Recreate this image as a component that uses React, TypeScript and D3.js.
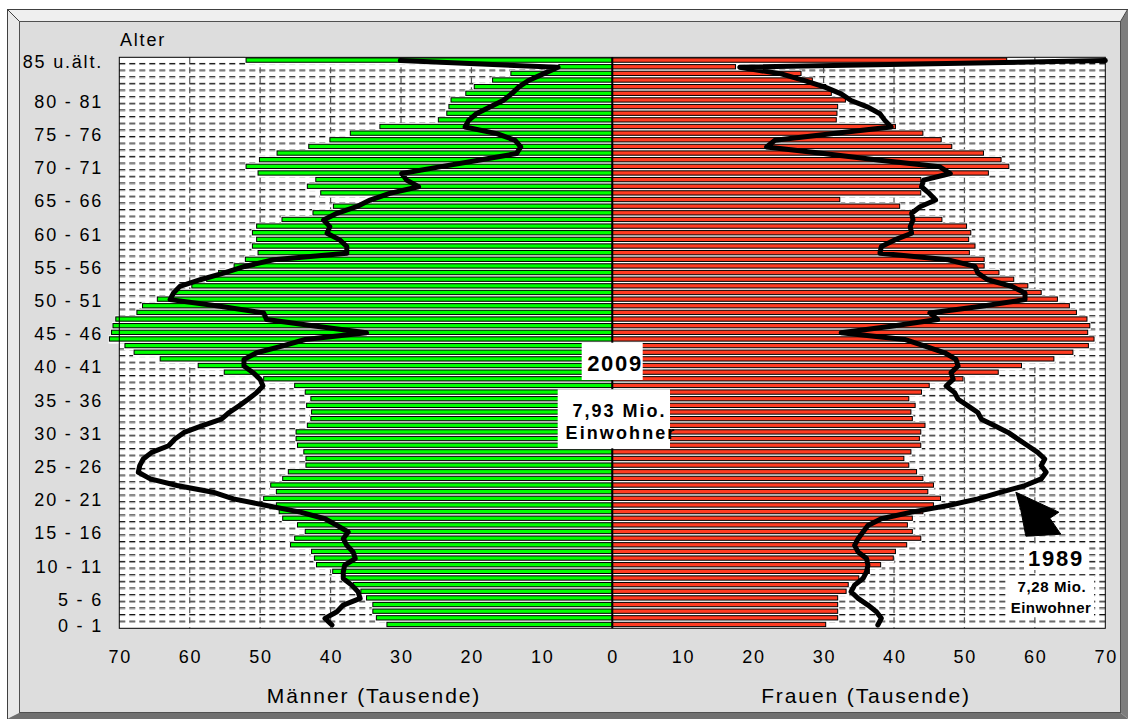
import React from 'react';
import * as d3 from 'd3';

// Age rows 0 .. 85 (85 = "85 u.ält.")
const ages: number[] = d3.range(0, 86);

// 2009 population, thousands
const men2009: number[] = [
  32.0, 33.5, 34.0, 34.0, 34.9, 35.7, 36.8, 38.2, 39.7, 42.0,
  42.3, 42.7, 45.7, 45.1, 43.6, 44.7, 46.8, 47.3, 47.7, 49.5,
  47.7, 48.5, 46.8, 46.0, 43.5, 43.5, 43.8, 44.7, 44.9, 44.9,
  43.3, 42.8, 42.7, 43.4, 42.8, 43.6, 45.1, 49.5, 55.1, 58.8,
  64.2, 67.9, 69.2, 71.4, 71.1, 70.9, 70.5, 67.5, 66.7, 64.6,
  62.3, 59.7, 57.6, 55.9, 53.7, 52.1, 50.3, 51.1, 50.5, 51.1,
  50.5, 46.9, 42.5, 39.6, 34.0, 41.4, 43.3, 42.1, 50.3, 52.0,
  50.1, 47.6, 43.1, 40.1, 37.2, 33.0, 24.7, 23.5, 23.2, 22.9,
  20.8, 19.6, 17.0, 14.4, 7.6, 52.0,
];
const women2009: number[] = [
  30.3, 32.0, 32.0, 32.0, 32.0, 33.2, 33.5, 35.0, 36.5, 38.1,
  39.9, 40.2, 41.8, 43.8, 42.6, 41.9, 42.6, 44.1, 45.6, 46.6,
  44.8, 45.6, 44.1, 43.2, 42.1, 41.4, 42.4, 43.8, 43.6, 43.8,
  44.4, 42.6, 42.4, 43.0, 42.1, 43.9, 45.0, 49.8, 54.8, 58.1,
  62.7, 65.4, 67.6, 68.4, 67.5, 67.8, 67.4, 65.9, 64.9, 63.2,
  60.9, 59.0, 57.0, 54.9, 52.8, 52.8, 50.7, 51.5, 50.6, 50.9,
  50.3, 46.8, 42.4, 40.8, 32.3, 43.8, 43.8, 43.8, 53.4, 56.3,
  55.2, 52.7, 48.2, 46.7, 44.1, 40.2, 31.8, 31.9, 32.0, 33.1,
  31.1, 30.3, 28.4, 26.8, 17.5, 56.0,
];

// 1989 population, thousands (black lines)
const men1989: number[] = [
  39.8, 40.8, 39.1, 38.2, 35.8, 36.1, 37.0, 38.2, 38.2, 38.0,
  36.5, 36.8, 37.7, 38.2, 37.5, 39.1, 40.8, 44.3, 49.1, 53.8,
  56.7, 61.8, 65.6, 67.3, 67.1, 66.6, 65.4, 63.0, 62.1, 60.8,
  58.3, 55.5, 54.4, 53.0, 51.7, 50.5, 49.6, 50.0, 51.0, 52.3,
  52.3, 50.5, 46.9, 43.6, 34.9, 42.0, 49.1, 49.5, 55.7, 62.8,
  62.3, 61.4, 58.5, 55.2, 52.2, 48.1, 37.7, 37.7, 38.7, 40.5,
  40.1, 41.0, 39.1, 36.3, 34.4, 31.6, 27.5, 29.2, 29.9, 24.5,
  19.0, 13.6, 13.0, 13.8, 16.4, 20.9, 20.4, 19.3, 17.4, 15.5,
  14.3, 13.3, 11.9, 9.8, 7.7, 30.1,
];
const women1989: number[] = [
  37.7, 38.2, 37.5, 36.3, 34.9, 33.9, 34.4, 35.6, 36.1, 36.3,
  36.1, 34.9, 34.4, 34.9, 35.6, 36.3, 38.2, 42.5, 47.7, 51.9,
  55.2, 58.6, 60.9, 61.6, 60.9, 61.4, 60.4, 59.0, 57.6, 56.2,
  54.3, 52.4, 51.9, 50.5, 49.1, 48.6, 47.4, 48.4, 48.1, 49.1,
  48.8, 47.2, 44.4, 41.5, 32.5, 39.6, 46.2, 45.1, 52.4, 58.6,
  58.6, 56.7, 53.3, 51.9, 51.5, 47.7, 38.0, 38.2, 40.1, 42.5,
  42.3, 42.7, 42.5, 43.7, 45.9, 45.0, 43.9, 44.2, 48.0, 46.5,
  38.0, 30.0, 21.9, 23.1, 31.1, 39.6, 38.7, 38.0, 36.3, 33.9,
  32.5, 30.2, 27.3, 24.0, 18.1, 70.0,
];

// Category labels (row index where the label is drawn) and x ticks
const ageTickRows: number[] = [0, 4, 9, 14, 19, 24, 29, 34, 39, 44, 49, 54, 59, 64, 69, 74, 79, 85];
const ageTickLabels: string[] = [
  '0 - 1', '5 - 6', '10 - 11', '15 - 16', '20 - 21', '25 - 26', '30 - 31', '35 - 36', '40 - 41',
  '45 - 46', '50 - 51', '55 - 56', '60 - 61', '65 - 66', '70 - 71', '75 - 76', '80 - 81', '85 u.ält.',
];
const xTicks: number[] = [0, 10, 20, 30, 40, 50, 60, 70];
const gridValues: number[] = [10, 20, 30, 40, 50, 60];

const FONT = "'Liberation Sans', Arial, Helvetica, sans-serif";

export default function App() {
  const W = 1128;
  const H = 719;
  const plot = { left: 119.3, right: 1105.3, top: 57.3, bottom: 628.3 };
  const cx = 612.3;

  const xL = d3.scaleLinear().domain([0, 70]).range([cx, plot.left]);
  const xR = d3.scaleLinear().domain([0, 70]).range([cx, plot.right]);
  const yB = d3
    .scaleBand<number>()
    .domain(ages.slice().reverse())
    .range([plot.top, plot.bottom])
    .paddingInner(0)
    .paddingOuter(0);
  const rowH = yB.bandwidth();
  const yC = (a: number) => (yB(a) as number) + rowH / 2;

  const lineMen = d3
    .line<number>()
    .x((v) => xL(v))
    .y((_, i) => yC(ages[i]));
  const lineWomen = d3
    .line<number>()
    .x((v) => xR(v))
    .y((_, i) => yC(ages[i]));

  const barTop = 0.65;
  const barH = 4.3;

  const green = '#00ff00';
  const red = '#ff3c22';

  // arrow anchored in data space (tip on the women's 1989 line)
  const tipX = xR(57.3);
  const tipY = yC(20);
  const arrow: [number, number][] = [
    [tipX, tipY],
    [tipX + 43, tipY + 20],
    [tipX + 34, tipY + 26],
    [tipX + 45, tipY + 42],
    [tipX + 10, tipY + 44],
    [tipX + 5, tipY + 18],
  ];

  return (
    <svg
      width={W}
      height={H}
      viewBox={`0 0 ${W} ${H}`}
      style={{ position: 'absolute', left: 0, top: 0, background: '#ffffff' }}
      fontFamily={FONT}
    >
      {/* 3D frame */}
      <polygon points="7,9 1128,9 1121,21 19,21" fill="#efefef" />
      <polygon points="7,9 19,21 19,713 7,719" fill="#e9e9e9" />
      <polygon points="7,719 19,713 1121,713 1128,719" fill="#6f6f6f" />
      <polygon points="1128,9 1128,719 1121,713 1121,21" fill="#7d7d7d" />
      <rect x={7.5} y={9.5} width={1125} height={712} fill="none" stroke="#404040" strokeWidth={1} />
      <line x1={7.5} y1={9.5} x2={19.5} y2={21.5} stroke="#404040" strokeWidth={1} />
      <line x1={1127.5} y1={9.5} x2={1120.5} y2={21.5} stroke="#404040" strokeWidth={1} />
      <rect x={19.5} y={21.5} width={1101} height={691} fill="#dddddd" stroke="#505050" strokeWidth={1} />

      {/* plot area */}
      <rect x={plot.left} y={plot.top} width={plot.right - plot.left} height={plot.bottom - plot.top} fill="#ffffff" />

      {/* horizontal dashed gridlines at category boundaries */}
      {d3.range(1, ages.length).map((k) => {
        const y = plot.top + k * rowH;
        return (
          <g key={`hg${k}`}>
            <line x1={plot.left} x2={plot.right} y1={y - 0.5} y2={y - 0.5} stroke="#111" strokeWidth={1} strokeDasharray="6,4" />
            <line x1={plot.left} x2={plot.right} y1={y + 0.6} y2={y + 0.6} stroke="#9a9a9a" strokeWidth={1} strokeDasharray="6,4" />
          </g>
        );
      })}
      {/* vertical dashed gridlines */}
      {gridValues.map((v) => (
        <g key={`vg${v}`}>
          <line x1={xL(v)} x2={xL(v)} y1={plot.top} y2={plot.bottom} stroke="#555" strokeWidth={1.2} strokeDasharray="6,4" />
          <line x1={xR(v)} x2={xR(v)} y1={plot.top} y2={plot.bottom} stroke="#555" strokeWidth={1.2} strokeDasharray="6,4" />
        </g>
      ))}

      {/* white backing behind bars */}
      {ages.map((a, i) => (
        <rect key={`wm${a}`} x={xL(men2009[i]) - 1} y={(yB(a) as number) - 0.8} width={cx - xL(men2009[i]) + 1} height={rowH + 1.6} fill="#fff" />
      ))}
      {ages.map((a, i) => (
        <rect key={`ww${a}`} x={cx} y={(yB(a) as number) - 0.8} width={xR(women2009[i]) - cx + 1} height={rowH + 1.6} fill="#fff" />
      ))}

      {/* bars 2009 */}
      {ages.map((a, i) => (
        <rect
          key={`bm${a}`}
          x={xL(men2009[i])}
          y={(yB(a) as number) + barTop}
          width={cx - xL(men2009[i])}
          height={barH}
          fill={green}
          stroke="#000"
          strokeWidth={1}
        />
      ))}
      {ages.map((a, i) => (
        <rect
          key={`bw${a}`}
          x={cx}
          y={(yB(a) as number) + barTop}
          width={xR(women2009[i]) - cx}
          height={barH}
          fill={red}
          stroke="#000"
          strokeWidth={1}
        />
      ))}

      {/* plot border and center axis */}
      <rect x={plot.left} y={plot.top} width={plot.right - plot.left} height={plot.bottom - plot.top} fill="none" stroke="#000" strokeWidth={1} />
      <line x1={cx} x2={cx} y1={plot.top} y2={plot.bottom} stroke="#000" strokeWidth={2} />

      {/* 1989 lines */}
      <path d={lineMen(men1989) || ''} fill="none" stroke="#000" strokeWidth={5} strokeLinejoin="round" strokeLinecap="round" />
      <path d={lineWomen(women1989) || ''} fill="none" stroke="#000" strokeWidth={5} strokeLinejoin="round" strokeLinecap="round" />

      {/* y labels */}
      <text x={120} y={46} fontSize={18} letterSpacing={1.8} fill="#000">Alter</text>
      {ageTickRows.map((r, i) => (
        <text key={`yl${r}`} x={103} y={yC(r) + 7.4} fontSize={18} letterSpacing={1.8} textAnchor="end" fill="#000">
          {ageTickLabels[i]}
        </text>
      ))}

      {/* x tick labels */}
      {xTicks.map((v) => (
        <text key={`xl${v}`} x={xL(v) + 0.9} y={662.7} fontSize={18} letterSpacing={1.8} textAnchor="middle" fill="#000">
          {v}
        </text>
      ))}
      {xTicks.filter((v) => v > 0).map((v) => (
        <text key={`xr${v}`} x={xR(v) + 0.9} y={662.7} fontSize={18} letterSpacing={1.8} textAnchor="middle" fill="#000">
          {v}
        </text>
      ))}

      {/* axis titles */}
      <text x={374} y={703.3} fontSize={21} letterSpacing={1.9} textAnchor="middle" fill="#000">Männer (Tausende)</text>
      <text x={866} y={703.3} fontSize={21} letterSpacing={1.9} textAnchor="middle" fill="#000">Frauen (Tausende)</text>

      {/* 2009 annotation */}
      <rect x={581.7} y={342.7} width={61} height={37.3} fill="#fff" />
      <text x={615} y={370.7} fontSize={22} fontWeight="bold" letterSpacing={1.7} textAnchor="middle" fill="#000">2009</text>
      <rect x={557.7} y={389.3} width={112.3} height={59} fill="#fff" />
      <text x={619.5} y={416.7} fontSize={18} fontWeight="bold" letterSpacing={2} textAnchor="middle" fill="#000">7,93 Mio.</text>
      <text x={621} y={439.3} fontSize={18} fontWeight="bold" letterSpacing={2.1} textAnchor="middle" fill="#000">Einwohner</text>

      {/* 1989 annotation */}
      <polygon points={arrow.map((p) => p.join(',')).join(' ')} fill="#000" stroke="#000" strokeWidth={1} strokeLinejoin="round" />
      <rect x={1024} y={545} width={64} height={25} fill="#fff" />
      <text x={1056} y={566} fontSize={22} fontWeight="bold" letterSpacing={1.8} textAnchor="middle" fill="#000">1989</text>
      <rect x={1008} y={576} width={86} height={41} fill="#fff" />
      <text x={1052} y={591.7} fontSize={15} fontWeight="bold" letterSpacing={0.6} textAnchor="middle" fill="#000">7,28 Mio.</text>
      <text x={1051} y={612.7} fontSize={15} fontWeight="bold" letterSpacing={0.4} textAnchor="middle" fill="#000">Einwohner</text>
    </svg>
  );
}
